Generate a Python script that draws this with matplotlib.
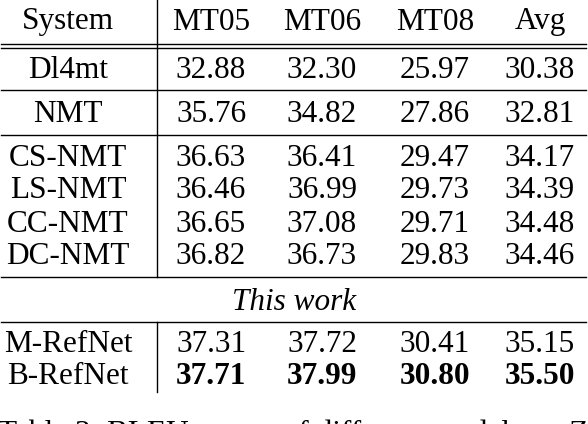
import matplotlib
matplotlib.use("Agg")
import matplotlib.pyplot as plt

header = ["System", "MT05", "MT06", "MT08", "Avg"]
systems = ["Dl4mt", "NMT", "CS-NMT", "LS-NMT", "CC-NMT", "DC-NMT", "M-RefNet", "B-RefNet"]
mt05 = ["32.88", "35.76", "36.63", "36.46", "36.65", "36.82", "37.31", "37.71"]
mt06 = ["32.30", "34.82", "36.41", "36.99", "37.08", "36.73", "37.72", "37.99"]
mt08 = ["25.97", "27.86", "29.47", "29.73", "29.71", "29.83", "30.41", "30.80"]
avg = ["30.38", "32.81", "34.17", "34.39", "34.48", "34.46", "35.15", "35.50"]
caption = "Table 3: BLEU scores of different models on Zh-En"

W, H = 588, 424
fig = plt.figure(figsize=(W/100, H/100), dpi=100)
ax = fig.add_axes([0, 0, 1, 1])
ax.set_xlim(0, W); ax.set_ylim(H, 0); ax.axis("off")
fam = ["Liberation Serif", "DejaVu Serif"]
fs = 22.5
xs = [68, 211, 322, 435, 540]
ys = [22, 70, 114, 159, 191, 224, 257, 345, 377]

for x, t in zip(xs, header):
    ax.text(x, ys[0], t, ha="center", va="center", fontsize=fs, family=fam)
for i in range(8):
    y = ys[i+1]
    bold = (i == 7)
    ax.text(xs[0], y, systems[i], ha="center", va="center", fontsize=fs, family=fam)
    for x, col in zip(xs[1:], [mt05, mt06, mt08, avg]):
        ax.text(x, y, col[i], ha="center", va="center", fontsize=fs, family=fam,
                weight="bold" if bold else "normal")
ax.text(W/2, 302, "This work", ha="center", va="center", fontsize=fs, family=fam, style="italic")
ax.text(-2, 420, caption, ha="left", va="top", fontsize=fs, family=fam)

lw = 1.0
for y in [44, 47.5, 90, 135, 277, 322]:
    ax.plot([1, 586], [y, y], color="black", lw=lw)
ax.plot([157, 157], [0, 277], color="black", lw=lw)
ax.plot([157, 157], [322, 392], color="black", lw=lw)
fig.savefig("out.png", dpi=100)
